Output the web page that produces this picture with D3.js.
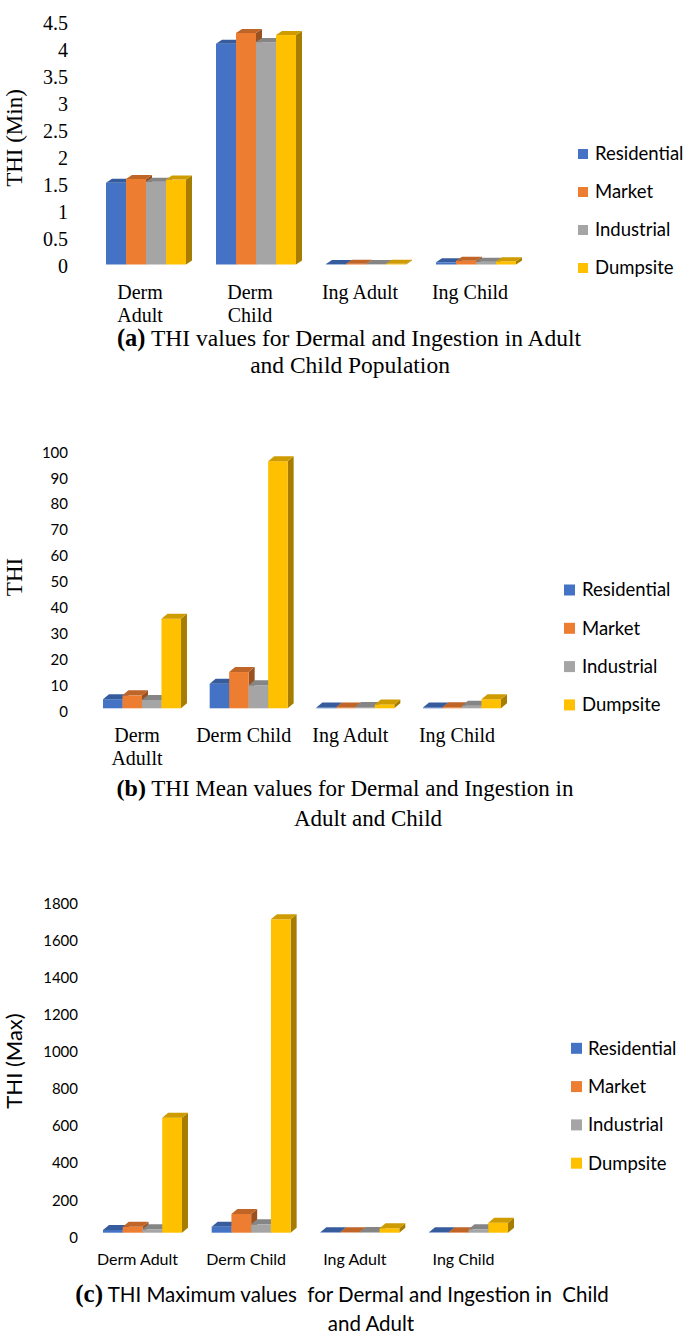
<!DOCTYPE html>
<html>
<head>
<meta charset="utf-8">
<script src="https://cdn.jsdelivr.net/npm/d3@7"></script>
<style>
  html, body { margin: 0; padding: 0; background: #ffffff; }
  svg { display: block; }
</style>
</head>
<body>
<div id="chart"></div>
<script>
// ---------------- DATA ----------------
const series = ["Residential", "Market", "Industrial", "Dumpsite"];
const seriesColors = ["#4472C4", "#ED7D31", "#A5A5A5", "#FFC000"];

const categories = ["Derm Adult", "Derm Child", "Ing Adult", "Ing Child"];
const catLabelsA = [["Derm", "Adult"], ["Derm", "Child"], ["Ing Adult"], ["Ing Child"]];
const catLabelsB = [["Derm", "Adullt"], ["Derm Child"], ["Ing Adult"], ["Ing Child"]];
const catLabelsC = [["Derm Adult"], ["Derm Child"], ["Ing Adult"], ["Ing Child"]];

// values per series, in category order (Derm Adult, Derm Child, Ing Adult, Ing Child)
const minResidential = [1.51, 4.08, 0.01, 0.04];
const minMarket      = [1.58, 4.28, 0.015, 0.07];
const minIndustrial  = [1.53, 4.11, 0.01, 0.05];
const minDumpsite    = [1.57, 4.24, 0.012, 0.06];

const meanResidential = [3.5, 9.5, 0.3, 0.3];
const meanMarket      = [5.0, 14.0, 0.3, 0.4];
const meanIndustrial  = [3.2, 8.9, 0.5, 1.0];
const meanDumpsite    = [34.6, 95.4, 1.5, 3.5];

const maxResidential = [15, 32, 2, 2];
const maxMarket      = [32, 101, 2, 3];
const maxIndustrial  = [18, 45, 4, 18];
const maxDumpsite    = [620, 1689, 24, 54];

const ticksA = [0, 0.5, 1, 1.5, 2, 2.5, 3, 3.5, 4, 4.5];
const tickLabelsA = ["0", "0.5", "1", "1.5", "2", "2.5", "3", "3.5", "4", "4.5"];
const ticksB = [0, 10, 20, 30, 40, 50, 60, 70, 80, 90, 100];
const tickLabelsB = ["0", "10", "20", "30", "40", "50", "60", "70", "80", "90", "100"];
const ticksC = [0, 200, 400, 600, 800, 1000, 1200, 1400, 1600, 1800];
const tickLabelsC = ["0", "200", "400", "600", "800", "1000", "1200", "1400", "1600", "1800"];

const titleA = "THI (Min)";
const titleB = "THI";
const titleC = "THI (Max)";

const captionA = ["(a)", " THI values for Dermal and Ingestion in Adult", "and Child Population"];
const captionB = ["(b)", " THI Mean values for Dermal and Ingestion in", "Adult and Child"];
const captionC = ["(c)", " THI Maximum values  for Dermal and Ingestion in  Child", "and Adult"];

// ---------------- RENDER ----------------
const W = 685, H = 1339;
const SERIF = "'Liberation Serif', 'Times New Roman', Times, serif";
const SANS = "Lato, 'Open Sans', sans-serif";

const svg = d3.select("#chart").append("svg")
  .attr("width", W).attr("height", H)
  .attr("viewBox", `0 0 ${W} ${H}`);
svg.append("rect").attr("width", W).attr("height", H).attr("fill", "#fff");

function drawPanel(cfg) {
  const g = svg.append("g");
  const y = d3.scaleLinear().domain([0, cfg.max]).range([cfg.base, cfg.top]);
  const x = d3.scaleBand().domain(categories)
    .range([cfg.xStart, cfg.xEnd]).paddingInner(cfg.padIn).paddingOuter(cfg.padOut);
  const xs = d3.scaleBand().domain(series).range([0, x.bandwidth()]);
  const dx = cfg.dx, dy = cfg.dy;

  categories.forEach((cat, ci) => {
    series.forEach((s, si) => {
      const v = cfg.values[si][ci];
      const x0 = x(cat) + xs(s);
      const w = xs.bandwidth();
      const yT = y(v), yB = y(0);
      const c = d3.color(seriesColors[si]);
      const topC = c.darker(0.6).formatHex();
      const sideC = c.darker(1.2).formatHex();
      const bar = g.append("g");
      // side face
      bar.append("path")
        .attr("d", `M${x0 + w},${yB} L${x0 + w + dx},${yB - dy} L${x0 + w + dx},${yT - dy} L${x0 + w},${yT} Z`)
        .attr("fill", sideC);
      // front face
      bar.append("rect")
        .attr("x", x0).attr("y", yT).attr("width", w).attr("height", Math.max(0, yB - yT))
        .attr("fill", c.formatHex());
      // top face
      bar.append("path")
        .attr("d", `M${x0},${yT} L${x0 + dx},${yT - dy} L${x0 + w + dx},${yT - dy} L${x0 + w},${yT} Z`)
        .attr("fill", topC);
    });
  });

  // value axis (labels only)
  const axis = d3.axisLeft(y).tickValues(cfg.ticks)
    .tickFormat((d, i) => cfg.tickLabels[i]).tickSize(0).tickPadding(0);
  const ax = g.append("g")
    .attr("transform", `translate(${cfg.axisX},${cfg.labelShift})`)
    .call(axis);
  ax.select(".domain").remove();
  ax.attr("font-family", cfg.tickFont).attr("font-size", cfg.tickSize);
  ax.selectAll("text")
    .attr("font-family", cfg.tickFont).attr("font-size", cfg.tickSize).attr("fill", "#000");

  // axis title
  g.append("text")
    .attr("transform", `translate(${cfg.titleX},${cfg.titleY}) rotate(-90)`)
    .attr("text-anchor", "middle").attr("dominant-baseline", "central")
    .attr("font-family", cfg.titleFont).attr("font-size", cfg.titleSize).attr("fill", "#000")
    .text(cfg.title);

  // category labels
  categories.forEach((cat, ci) => {
    const lines = cfg.catLabels[ci];
    const t = g.append("text")
      .attr("text-anchor", "middle")
      .attr("font-family", cfg.catFont).attr("font-size", cfg.catSize).attr("fill", "#000");
    lines.forEach((ln, li) => {
      t.append("tspan")
        .attr("x", x(cat) + x.bandwidth() / 2 + cfg.catShift)
        .attr("y", cfg.catY + li * cfg.catLine)
        .attr("dy", "0.35em")
        .text(ln);
    });
  });

  // legend
  series.forEach((s, si) => {
    const ly = cfg.legY + si * cfg.legStep;
    g.append("rect")
      .attr("x", cfg.legX).attr("y", ly - cfg.legBox / 2)
      .attr("width", cfg.legBox).attr("height", cfg.legBox)
      .attr("fill", seriesColors[si]);
    g.append("text")
      .attr("x", cfg.legTextX).attr("y", ly).attr("dy", "0.35em")
      .attr("font-family", SANS).attr("font-size", cfg.legSize).attr("fill", "#000")
      .text(s);
  });

  // caption
  const cap = g.append("text")
    .attr("text-anchor", "middle").attr("xml:space", "preserve")
    .style("white-space", "pre")
    .attr("fill", "#000");
  const l1 = cap.append("tspan").attr("x", cfg.capX1).attr("y", cfg.capY1).attr("dy", "0.35em");
  l1.append("tspan").attr("font-family", SERIF).attr("font-weight", "bold")
    .attr("font-size", cfg.capBoldSize).text(cfg.caption[0]);
  l1.append("tspan").attr("font-family", cfg.capFont).attr("font-size", cfg.capSize).text(cfg.caption[1]);
  cap.append("tspan").attr("x", cfg.capX2).attr("y", cfg.capY2).attr("dy", "0.35em")
    .attr("font-family", cfg.capFont).attr("font-size", cfg.capSize).text(cfg.caption[2]);
}

// Panel (a)
drawPanel({
  values: [minResidential, minMarket, minIndustrial, minDumpsite],
  max: 4.5, base: 264.5, top: 21, labelShift: 2,
  ticks: ticksA, tickLabels: tickLabelsA, axisX: 68, tickFont: SERIF, tickSize: 20,
  xStart: 91, xEnd: 531, padIn: 30 / 110, padOut: 15 / 110, dx: 6, dy: 4,
  title: titleA, titleX: 14, titleY: 138, titleFont: SERIF, titleSize: 23,
  catLabels: catLabelsA, catY: 292, catLine: 23, catFont: SERIF, catSize: 20, catShift: -6,
  legX: 578, legY: 154, legStep: 38, legBox: 10, legTextX: 595, legSize: 18.5,
  caption: captionA, capX1: 349, capY1: 340, capX2: 350, capY2: 365,
  capFont: SERIF, capSize: 23.5, capBoldSize: 24.5
});

// Panel (b)
drawPanel({
  values: [meanResidential, meanMarket, meanIndustrial, meanDumpsite],
  max: 100, base: 708.3, top: 449.3, labelShift: 3,
  ticks: ticksB, tickLabels: tickLabelsB, axisX: 68, tickFont: SANS, tickSize: 15,
  xStart: 103 - 14.35, xEnd: 501 + 14.35, padIn: 28.7 / 106.7, padOut: 14.35 / 106.7, dx: 6, dy: 5,
  title: titleB, titleX: 14, titleY: 577, titleFont: SERIF, titleSize: 23,
  catLabels: catLabelsB, catY: 735, catLine: 23, catFont: SERIF, catSize: 20, catShift: -5,
  legX: 564, legY: 590, legStep: 38.3, legBox: 11, legTextX: 582, legSize: 18.5,
  caption: captionB, capX1: 345, capY1: 790, capX2: 368, capY2: 818,
  capFont: SERIF, capSize: 23, capBoldSize: 24
});

// Panel (c)
drawPanel({
  values: [maxResidential, maxMarket, maxIndustrial, maxDumpsite],
  max: 1800, base: 1232.7, top: 898.7, labelShift: 4.6,
  ticks: ticksC, tickLabels: tickLabelsC, axisX: 78, tickFont: SANS, tickSize: 15,
  xStart: 103 - 14.85, xEnd: 508 + 14.85, padIn: 29.7 / 108.7, padOut: 14.85 / 108.7, dx: 6, dy: 5,
  title: titleC, titleX: 13, titleY: 1061, titleFont: SANS, titleSize: 22,
  catLabels: catLabelsC, catY: 1259, catLine: 20, catFont: SANS, catSize: 16, catShift: -5,
  legX: 571, legY: 1048.3, legStep: 38.3, legBox: 11, legTextX: 588, legSize: 18.5,
  caption: captionC, capX1: 342, capY1: 1296, capX2: 371, capY2: 1324,
  capFont: SANS, capSize: 20.5, capBoldSize: 25
});
</script>
</body>
</html>
